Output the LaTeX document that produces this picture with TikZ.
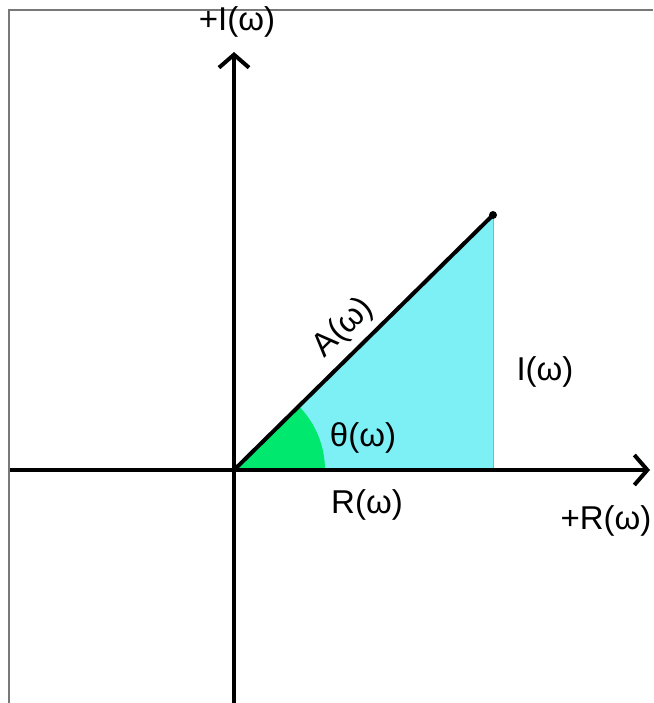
\documentclass[tikz,border=0pt]{standalone}
\usepackage{fontspec}
\setmainfont{Liberation Sans}
\usetikzlibrary{arrows.meta}
\definecolor{cyanfill}{RGB}{125,240,246}
\definecolor{greenfill}{RGB}{0,232,110}
\definecolor{framegray}{RGB}{120,120,120}
\tikzset{
  axis/.style={line width=4, -{Straight Barb[length=13,width=30,line width=4]}},
  lbl/.style={font=\fontsize{33}{38}\selectfont, inner sep=0},
}
\begin{document}
\begin{tikzpicture}[x=1pt,y=-1pt]
\useasboundingbox (0,0) rectangle (653,703);
\fill[white] (0,0) rectangle (653,703);
% frame
\draw[framegray, line width=2.5] (9,703) -- (9,10) -- (653,10);
% coordinates
\coordinate (O) at (234,470);
\coordinate (P) at (493,215);
\coordinate (Q) at (493,470);
\coordinate (xl) at (10,470);
\coordinate (xr) at (650,470);
\coordinate (yb) at (234,703);
\coordinate (yt) at (234,52);
% triangle
\fill[cyanfill] (O) -- (P) -- (Q) -- cycle;
\draw[gray!70, line width=1] (P) -- (Q);
% angle sector
\fill[greenfill] (O) -- ++(91,0) arc[start angle=0, end angle=-44.6, radius=91] -- cycle;
% axes
\draw[axis] (xl) -- (xr);
\draw[axis] (yb) -- (yt);
% vector
\draw[line width=4] (O) -- node[lbl, sloped, above=7pt, pos=0.49] (A) {A(ω)} (P);
\fill (P) circle[radius=4];
% labels
\node[lbl] (Ilab) at (237,22) {+I(ω)};
\node[lbl] (Rlab) at (606,521) {+R(ω)};
\node[lbl] (R) at (367,505) {R(ω)};
\node[lbl] (I) at (545,372) {I(ω)};
\node[lbl] (th) at (363,438) {θ(ω)};
\end{tikzpicture}
\end{document}
